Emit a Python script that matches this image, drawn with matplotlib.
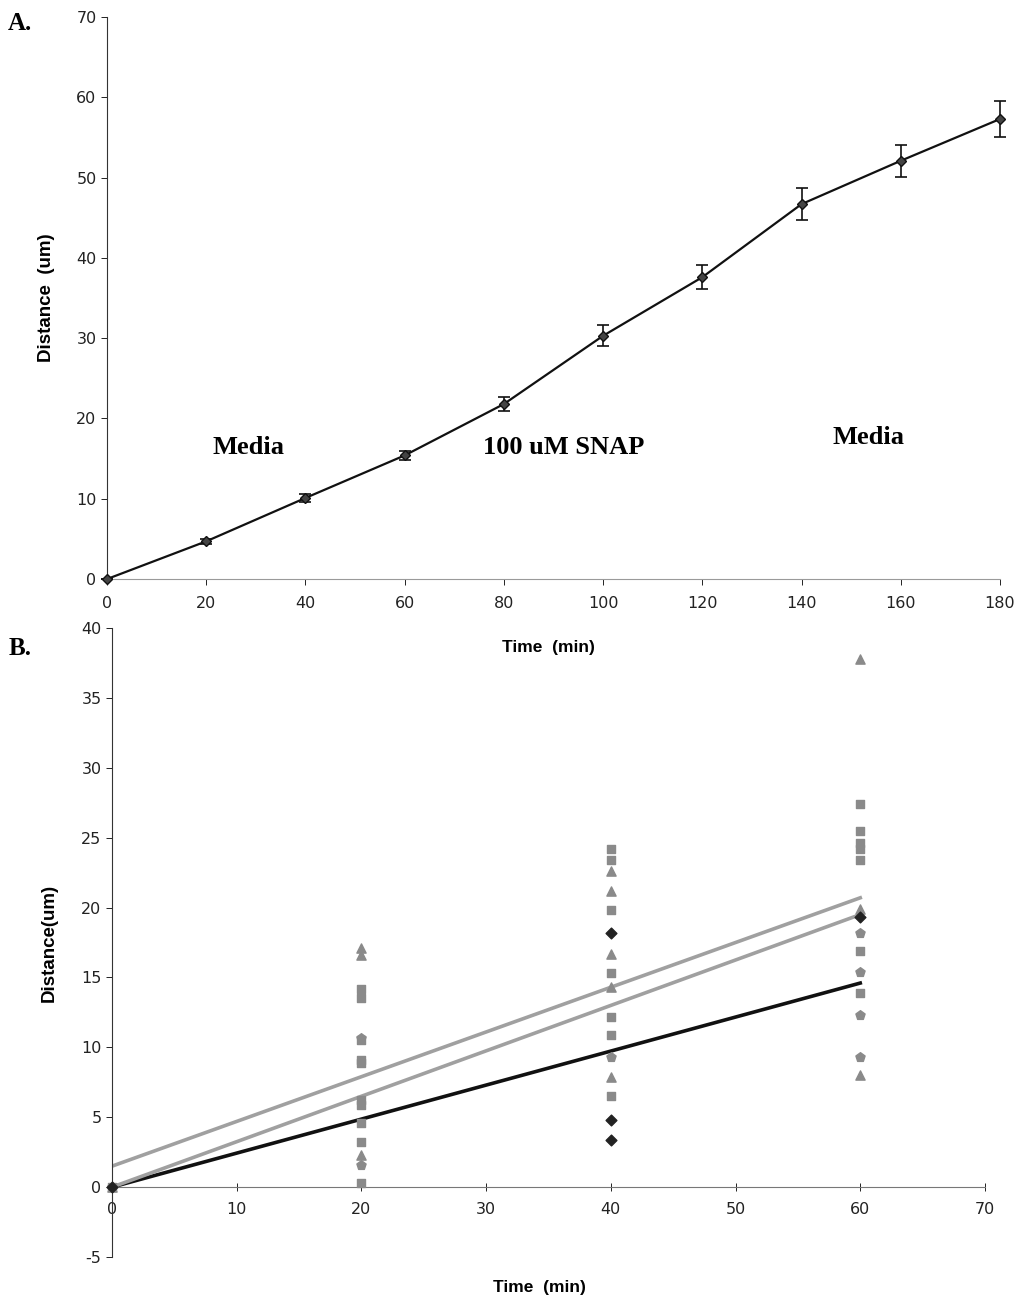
#!/usr/bin/env python3
"""Two-panel figure: mean migration distance with SNAP (A) and per-cell scatter with trendlines (B)."""
import matplotlib
matplotlib.use("agg")
import matplotlib.pyplot as plt

INK = "#111111"; GREY = "#8a8a8a"; LGREY = "#a0a0a0"
SERIF = "Liberation Serif"; SANS = "Liberation Sans"
plt.rcParams["axes.unicode_minus"] = False

# panel A: mean distance over time
time_a = [0, 20, 40, 60, 80, 100, 120, 140, 160, 180]
dist_a = [0.0, 4.7, 10.1, 15.4, 21.8, 30.3, 37.6, 46.7, 52.1, 57.3]
err_a = [0.0, 0.3, 0.5, 0.6, 0.9, 1.3, 1.5, 2.0, 2.0, 2.3]
phase_labels = ["Media", "100 uM SNAP", "Media"]
phase_x = [28.5, 92, 153.5]
phase_y = [16.4, 16.4, 17.6]

# panel B: individual cells (time, distance) per marker series
diam_t = [0, 40, 40, 40, 60]
diam_d = [0.0, 18.2, 4.8, 3.4, 19.3]
sq_t = [0] + [20] * 10 + [40] * 7 + [60] * 7
sq_d = [0.0, 14.2, 13.5, 10.5, 9.1, 8.9, 6.2, 5.9, 4.6, 3.2, 0.3,
        24.2, 23.4, 19.8, 15.3, 12.2, 10.9, 6.5,
        27.4, 25.5, 24.6, 24.2, 23.4, 16.9, 13.9]
tri_t = [0, 20, 20, 20, 40, 40, 40, 40, 40, 60, 60, 60]
tri_d = [0.0, 17.1, 16.6, 2.3, 22.6, 21.2, 16.7, 14.3, 7.9, 37.8, 19.9, 8.0]
pent_t = [0, 20, 20, 40, 60, 60, 60, 60]
pent_d = [0.0, 10.7, 1.6, 9.3, 18.2, 15.4, 12.3, 9.3]

# linear trendlines: value at t=0 and t=60
trend_t = [0, 60]
trend_start = [0.0, 1.5, 0.0]
trend_end = [14.6, 20.7, 19.5]
trend_col = [INK, LGREY, LGREY]

fig = plt.figure(figsize=(10.21, 13.03), dpi=100)

def style(ax):
    for s in ["top", "right"]:
        ax.spines[s].set_visible(False)
    ax.spines["left"].set_color("#333333"); ax.spines["left"].set_linewidth(0.8)
    ax.tick_params(labelsize=11.5, colors="#222222", length=4, width=0.7)

# ---- A ----
axA = fig.add_axes([0.1048, 0.5556, 0.8746, 0.4313])
axA.errorbar(time_a, dist_a, yerr=err_a, color=INK, lw=1.6, marker="D", ms=5.5,
             mfc="#444444", mec=INK, ecolor=INK, elinewidth=1.2, capsize=4, capthick=1.2,
             clip_on=False, zorder=3)
axA.set_xlim(0, 180); axA.set_ylim(0, 70)
axA.set_xticks(range(0, 181, 20)); axA.set_yticks(range(0, 71, 10))
style(axA)
axA.spines["bottom"].set_color("#9a9a9a"); axA.spines["bottom"].set_linewidth(0.8)
axA.tick_params(axis="x", pad=8)
for lab, x, y in zip(phase_labels, phase_x, phase_y):
    axA.text(x, y, lab, ha="center", va="center", family=SERIF, weight="bold", fontsize=19)
axA.set_xlabel("Time  (min)", family=SANS, weight="bold", fontsize=12.5)
axA.xaxis.set_label_coords(0.494, -0.108)
axA.set_ylabel("Distance  (um)", family=SANS, weight="bold", fontsize=13.5)
axA.yaxis.set_label_coords(-0.058, 0.5)

# ---- B ----
axB = fig.add_axes([0.1097, 0.0353, 0.855, 0.4827])
axB.patch.set_alpha(0)
for t0, t1, c in zip(trend_start, trend_end, trend_col):
    axB.plot(trend_t, [t0, t1], color=c, lw=2.6, zorder=2)
axB.scatter(sq_t, sq_d, marker="s", s=38, color=GREY, zorder=3, clip_on=False)
axB.scatter(tri_t, tri_d, marker="^", s=44, color=GREY, zorder=3, clip_on=False)
axB.scatter(pent_t, pent_d, marker="p", s=48, color=GREY, zorder=3, clip_on=False)
axB.scatter(diam_t, diam_d, marker="D", s=30, color="#222222", zorder=4, clip_on=False)
axB.set_xlim(0, 70); axB.set_ylim(-5, 40)
axB.set_xticks(range(0, 71, 10)); axB.set_yticks(range(-5, 41, 5))
style(axB)
axB.spines["bottom"].set_position(("data", 0))
axB.spines["bottom"].set_color("#777777"); axB.spines["bottom"].set_linewidth(0.8)
axB.tick_params(axis="x", direction="inout", length=6, pad=8)
axB.set_xlabel("Time  (min)", family=SANS, weight="bold", fontsize=12.5)
axB.xaxis.set_label_coords(0.49, -0.037)
axB.set_ylabel("Distance(um)", family=SANS, weight="bold", fontsize=13.5)
axB.yaxis.set_label_coords(-0.062, 0.5)

fig.text(0.008, 0.977, "A.", family=SERIF, weight="bold", fontsize=18)
fig.text(0.008, 0.497, "B.", family=SERIF, weight="bold", fontsize=18)

fig.savefig("out.png", dpi=100, facecolor="white")
print("wrote out.png")
